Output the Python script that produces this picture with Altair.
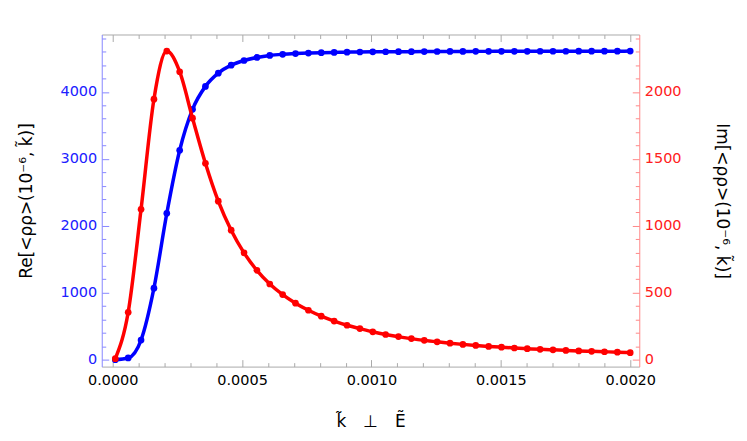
import altair as alt
import pandas as pd

# k-tilde values (x)
k_vals = [0.00001, 0.0000598, 0.0001095, 0.0001593, 0.000209, 0.0002588, 0.0003085,
          0.0003583, 0.000408, 0.0004578, 0.0005075, 0.0005573, 0.000607, 0.0006568,
          0.0007065, 0.0007563, 0.000806, 0.0008558, 0.0009055, 0.0009553, 0.001005,
          0.0010548, 0.0011045, 0.0011543, 0.001204, 0.0012538, 0.0013035, 0.0013533,
          0.001403, 0.0014528, 0.0015025, 0.0015523, 0.001602, 0.0016518, 0.0017015,
          0.0017513, 0.001801, 0.0018508, 0.0019005, 0.0019503, 0.002]
# Re part (left axis, blue)
re_vals = [0, 25, 293, 1068, 2186, 3129, 3740, 4083, 4281, 4400, 4470, 4515, 4545, 4562,
           4573, 4581, 4587, 4591, 4594, 4597, 4599, 4600, 4601, 4602, 4603, 4604, 4605,
           4605, 4606, 4606, 4607, 4607, 4607, 4608, 4608, 4608, 4609, 4609, 4609, 4609, 4610]
# Im part (right axis, red)
im_vals = [7, 354, 1123, 1946, 2305, 2151, 1804, 1467, 1184, 967, 798, 667, 565, 486, 422,
           369, 325, 288, 257, 232, 208, 188, 172, 157, 144, 133, 123, 114, 106, 99, 93, 87,
           82, 77, 73, 69, 65, 62, 59, 56, 52]

x_ticks = [round(i * 0.0001, 4) for i in range(0, 21)]
left_ticks = list(range(0, 4801, 200))
right_ticks = list(range(0, 2401, 100))

df = pd.DataFrame({"k": k_vals, "re": re_vals, "im": im_vals})

FONT = "DejaVu Sans"
BLUE = "#0000ff"
RED = "#ff0000"
GRAY = "#aaaaaa"
LFS = 14.5

xscale = alt.Scale(domain=[-0.0000424, 0.002035], nice=False, zero=False)

x_bottom = alt.X(
    "k:Q", scale=xscale,
    axis=alt.Axis(
        orient="bottom", values=x_ticks, format=".4f",
        labelExpr="(round(datum.value*10000) % 5 === 0) ? datum.label : ''",
        tickSize={"condition": {"test": "round(datum.value*10000) % 5 === 0", "value": -7}, "value": -4},
        domainColor=GRAY, tickColor=GRAY, labelColor="black", labelFont=FONT,
        labelFontSize=LFS, labelPadding=14, labelOverlap=False, labelFlush=False,
        grid=False, title="k\u0303\u2002\u2002\u22a5\u2002\u2002E\u0303", titleFont=FONT,
        titleFontSize=17, titleFontWeight="normal", titlePadding=24, titleColor="black",
    ),
)
x_top = alt.X(
    "k:Q", scale=xscale,
    axis=alt.Axis(
        orient="top", values=x_ticks, labels=False,
        tickSize={"condition": {"test": "round(datum.value*10000) % 5 === 0", "value": -7}, "value": -4},
        domainColor=GRAY, tickColor=GRAY, grid=False, title=None,
    ),
)

y_left = alt.Y(
    "re:Q", scale=alt.Scale(domain=[-104, 4858], nice=False, zero=False),
    axis=alt.Axis(
        orient="left", values=left_ticks,
        labelExpr="datum.value % 1000 === 0 ? datum.label : ''", format="d",
        tickSize={"condition": {"test": "datum.value % 1000 === 0", "value": -7}, "value": -4},
        domainColor="#8888ff", tickColor="#8888ff", labelColor="#2020ff", labelFont=FONT,
        labelFontSize=LFS, labelPadding=12, labelOverlap=False, labelFlush=False, grid=False,
        title="Re[<\u03c1\u03c1>(10\u207b\u2076, k\u0303)]", titleFont=FONT, titleFontSize=17,
        titleFontWeight="normal", titleColor="black", titlePadding=25,
    ),
)
y_right = alt.Y(
    "im:Q", scale=alt.Scale(domain=[-52, 2429], nice=False, zero=False),
    axis=alt.Axis(
        orient="right", values=right_ticks,
        labelExpr="datum.value % 500 === 0 ? datum.label : ''", format="d",
        tickSize={"condition": {"test": "datum.value % 500 === 0", "value": -7}, "value": -4},
        domainColor="#ff8888", tickColor="#ff8888", labelColor="#ff2020", labelFont=FONT,
        labelFontSize=LFS, labelPadding=12, labelOverlap=False, labelFlush=False, grid=False,
        title="Im[<\u03c1\u03c1>(10\u207b\u2076, k\u0303)]", titleFont=FONT, titleFontSize=17,
        titleFontWeight="normal", titleColor="black", titlePadding=32, titleAngle=90,
    ),
)

base = alt.Chart(df)
blue = alt.layer(
    base.mark_line(color=BLUE, strokeWidth=3.5, interpolate="monotone").encode(x=x_bottom, y=y_left),
    base.mark_circle(color=BLUE, size=45, opacity=1).encode(x=x_bottom, y=y_left),
)
red = alt.layer(
    base.mark_line(color=RED, strokeWidth=3.5, interpolate="monotone").encode(x=x_top, y=y_right),
    base.mark_circle(color=RED, size=45, opacity=1).encode(x=x_top, y=y_right),
)

chart = alt.layer(blue, red).resolve_scale(y="independent").resolve_axis(
    x="independent", y="independent"
).properties(
    width=539, height=333,
    autosize=alt.AutoSizeParams(type="none"),
    padding={"left": 94, "top": 26, "right": 100, "bottom": 66},
    background="white",
).configure_view(stroke=None)

chart.save("out.html", embed_options={"renderer": "svg", "actions": False})
